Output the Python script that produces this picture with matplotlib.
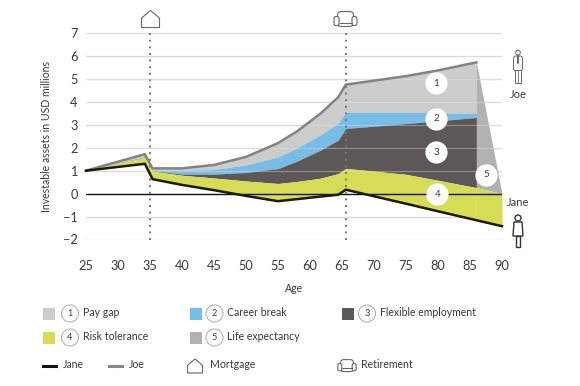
import matplotlib
matplotlib.use("Agg")
import matplotlib.pyplot as plt
import numpy as np
from matplotlib.patches import Rectangle, Circle, Polygon, FancyBboxPatch

plt.rcParams['font.family'] = ['Lato', 'DejaVu Sans']
SZ = 7.6

ages = [25, 34.2, 35.4, 40, 45, 50, 55, 58, 61.6, 64.4, 65.6, 75, 80, 86]
joe = [1.0, 1.72, 1.1, 1.1, 1.25, 1.6, 2.2, 2.72, 3.48, 4.2, 4.75, 5.12, 5.37, 5.72]
pay_gap_low = [1.0, 1.62, 1.02, 1.02, 1.05, 1.25, 1.6, 2.0, 2.55, 3.07, 3.55, 3.55, 3.52, 3.5]
career_low = [1.0, 1.6, 1.0, 0.85, 0.85, 0.92, 1.09, 1.42, 1.89, 2.33, 2.84, 3.05, 3.17, 3.32]
flex_low = [1.0, 1.58, 0.98, 0.8, 0.68, 0.55, 0.44, 0.53, 0.67, 0.87, 1.1, 0.84, 0.58, 0.26]
jane = [1.0, 1.3, 0.63, 0.38, 0.15, -0.1, -0.33, -0.24, -0.13, -0.05, 0.17, -0.44, -0.77, -1.16]

end_ages = [86, 90]
life_top = [5.72, 0.0]
life_low = [0.26, 0.0]
risk_end_low = [-1.16, -1.42]

grid_values = [7, 6, 5, 4, 3, 2, 1, -1, -2]
x_ticks = list(range(25, 95, 5))
y_ticks = list(range(-2, 8))
event_ages = [35, 65.6]
badges = [("1", 79.7, 4.8), ("2", 79.7, 3.27), ("3", 79.7, 1.8), ("4", 79.9, -0.02), ("5", 87.5, 0.82)]

c_pay, c_career, c_flex, c_risk, c_life = "#cccccb", "#77bde6", "#5d5857", "#d7dc56", "#b1b1b1"
txt = "#3a3a3a"

fig = plt.figure(figsize=(5.8, 3.86), dpi=100)
ax = fig.add_axes([86/580, 1-239.5/386, 416/580, 206.5/386])
ax.set_xlim(25, 90)
ax.set_ylim(-2, 7)
for s in ax.spines.values():
    s.set_visible(False)
ax.tick_params(length=0, labelsize=9.2, labelcolor=txt)
ax.set_xticks(x_ticks)
ax.set_yticks(y_ticks)
ax.tick_params(axis='x', pad=15)
ax.tick_params(axis='y', pad=6)
ax.set_xlabel("Age", fontsize=SZ, color=txt, labelpad=8)
ax.set_ylabel("Investable assets in USD millions", fontsize=SZ, color=txt, labelpad=8)

for v in grid_values:
    ax.axhline(v, color="#d9d9de", lw=1, zorder=1)

ax.fill_between(ages, pay_gap_low, joe, color=c_pay, lw=0, zorder=2)
ax.fill_between(ages, career_low, pay_gap_low, color=c_career, lw=0, zorder=2)
ax.fill_between(ages, flex_low, career_low, color=c_flex, lw=0, zorder=2)
ax.fill_between(ages, jane, flex_low, color=c_risk, lw=0, zorder=2)
ax.fill_between(end_ages, life_low, life_top, color=c_life, lw=0, zorder=2)
ax.fill_between(end_ages, risk_end_low, life_low, color=c_risk, lw=0, zorder=2)

for v in [1, 2, 3, 4, 5]:
    ax.axhline(v, color="#e4e4e8", lw=0.8, alpha=0.4, zorder=3)
ax.axhline(0, color="#111111", lw=1, zorder=4)

for a in event_ages:
    ax.plot([a, a], [-2, 7], color="#77777a", lw=1.4, ls=(0, (1, 2.4)), zorder=5)

ax.plot(ages, joe, color="#838385", lw=1.8, zorder=6, solid_joinstyle='miter', clip_on=False)
ax.plot(ages + end_ages[1:], jane + risk_end_low[1:], color="#1d1a08", lw=1.8, zorder=6,
        solid_joinstyle='miter', clip_on=False)

for t, a, v in badges:
    ax.plot([a], [v], 'o', ms=16, mfc='white', mec='none', zorder=7)
    ax.text(a, v, t, ha='center', va='center', fontsize=SZ - 0.6, color=txt, zorder=8)

ov = fig.add_axes([0, 0, 1, 1], facecolor='none')
ov.set_xlim(0, 580)
ov.set_ylim(386, 0)
ov.axis('off')

def label(x, y, s, size=SZ, ha='left'):
    ov.text(x, y, s, fontsize=size, color=txt, ha=ha, va='center')

def house(cx, base, w=17, h=17, col="#666666"):
    ov.add_patch(Polygon([(cx-w/2, base), (cx-w/2, base-h*0.55), (cx, base-h), (cx+w/2, base-h*0.55), (cx+w/2, base)],
                         closed=True, fc='white', ec=col, lw=0.8))

def sofa(cx, cy, k=1.0, col="#666666"):
    lw = 0.8
    ov.add_patch(FancyBboxPatch((cx-8*k, cy-8*k), 16*k, 15*k, boxstyle=f"round,pad=0,rounding_size={4*k}", fc='white', ec=col, lw=lw))
    ov.add_patch(FancyBboxPatch((cx-11.5*k, cy-3*k), 5*k, 9*k, boxstyle=f"round,pad=0,rounding_size={2*k}", fc='white', ec=col, lw=lw))
    ov.add_patch(FancyBboxPatch((cx+6.5*k, cy-3*k), 5*k, 9*k, boxstyle=f"round,pad=0,rounding_size={2*k}", fc='white', ec=col, lw=lw))
    ov.plot([cx-6*k, cx+6*k], [cy+3*k, cy+3*k], color=col, lw=lw)

house(150.5, 27.5, 18, 17)
sofa(345.5, 19.5)

ov.add_patch(Circle((518, 52.5), 2.3, fc='white', ec="#666666", lw=0.7))
ov.add_patch(FancyBboxPatch((513.5, 56), 9, 15, boxstyle="round,pad=0,rounding_size=2.5", fc='white', ec="#666666", lw=0.7))
ov.add_patch(Rectangle((515, 70), 6, 13, fc='white', ec="#666666", lw=0.7))
ov.plot([518, 518], [71, 83], color="#666666", lw=0.6)
ov.plot([518, 518], [56, 63], color="#444444", lw=1.1)
label(518, 94.5, "Joe", SZ + 0.4, 'center')

ov.add_patch(Circle((518, 218), 3, fc='white', ec="#333333", lw=1))
ov.add_patch(Polygon([(514, 222), (522, 222), (523, 236), (513, 236)], closed=True, fc='white', ec="#333333", lw=1))
ov.add_patch(Rectangle((516, 236), 4, 11, fc='white', ec="#333333", lw=1))
label(518, 202.5, "Jane", SZ + 0.4, 'center')

def entry(x, y, col, n, s, cx, tx):
    ov.add_patch(Rectangle((x, y-5.5), 11.5, 11.5, fc=col, ec='none'))
    ov.add_patch(Circle((cx, y), 8.5, fc='white', ec="#aaaaaa", lw=0.7))
    ov.text(cx, y, n, fontsize=SZ - 1, color=txt, ha='center', va='center')
    label(tx, y-1, s)

entry(43, 313.5, c_pay, "1", "Pay gap", 70, 83)
entry(190, 313.5, c_career, "2", "Career break", 214.5, 227)
entry(342, 313.5, c_flex, "3", "Flexible employment", 367, 380)
entry(43, 337.5, c_risk, "4", "Risk tolerance", 70, 83)
entry(190, 337.5, c_life, "5", "Life expectancy", 214.5, 227)

ov.plot([43, 56], [365.5, 365.5], color="#111111", lw=2.2)
label(63, 365, "Jane")
ov.plot([109, 122], [365.5, 365.5], color="#8a8a8a", lw=2.2)
label(129, 365, "Joe")
house(195, 373, 15, 14)
label(210, 365, "Mortgage")
sofa(347, 366, 0.8)
label(361, 365, "Retirement")

fig.savefig("out.png", dpi=100)
